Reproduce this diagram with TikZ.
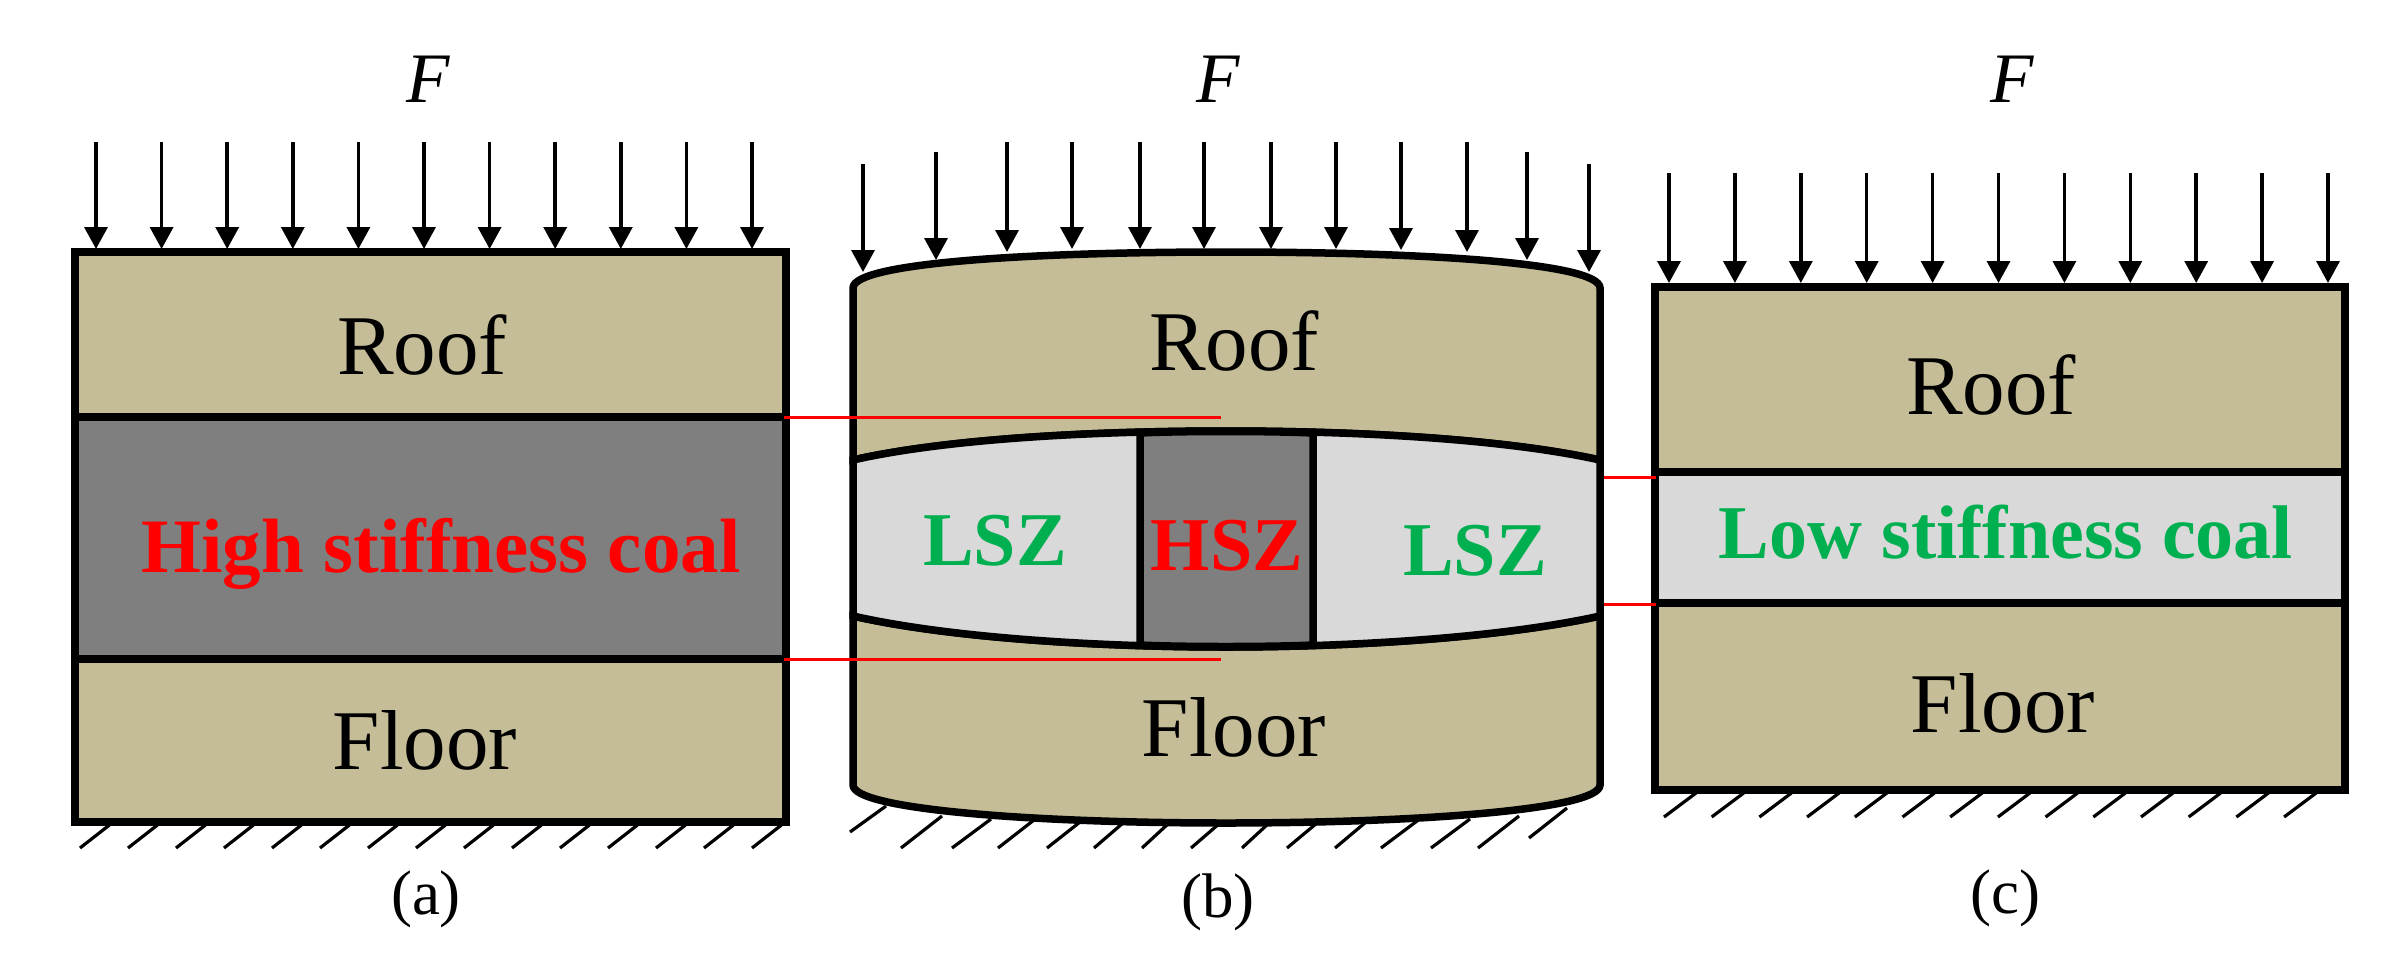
\documentclass[tikz,border=0pt]{standalone}
\usepackage{fontspec}
\setmainfont{Liberation Serif}
\usetikzlibrary{arrows.meta}
\definecolor{rock}{RGB}{196,189,151}
\definecolor{hard}{RGB}{127,127,127}
\definecolor{soft}{RGB}{217,217,217}
\definecolor{lsz}{RGB}{0,176,80}
\newcommand{\fs}[1]{\fontsize{#1}{#1}\selectfont}
\tikzset{
  x=1pt,y=-1pt,
  block/.style={draw=black,line width=7.5pt,line join=miter},
  thinred/.style={draw=red,line width=3pt},
  load/.style={draw=black,line width=3.5pt,-{Triangle[width=23pt,length=22pt]}},
  hatch/.style={draw=black,line width=3.2pt},
  lab/.style={font=\fs{85},text=black,inner sep=0pt,anchor=base},
  capt/.style={font=\fs{63},text=black,inner sep=0pt},
  force/.style={font=\fs{71}\itshape,text=black,inner sep=0pt,anchor=base},
  redbold/.style={font=\fs{77}\bfseries,text=red,inner sep=0pt,anchor=base},
  grnbold/.style={font=\fs{76}\bfseries,text=lsz,inner sep=0pt,anchor=base},
}
\begin{document}
\begin{tikzpicture}
\useasboundingbox (0,0) rectangle (2387,964);
% --- panel a
\filldraw[block,fill=rock] (75,252) rectangle (786,417);
\filldraw[block,fill=hard] (75,417) rectangle (786,659);
\filldraw[block,fill=rock] (75,659) rectangle (786,822);
\foreach \i in {0,...,10}{
  \pgfmathsetmacro{\xx}{96+65.6*\i}
  \coordinate (as\i) at (\xx,142); \coordinate (ae\i) at (\xx,249);
  \draw[load] (as\i) -- (ae\i);
}
\foreach \i in {0,...,14}{
  \pgfmathsetmacro{\xx}{80+48*\i}
  \draw[hatch] (\xx,848) -- (\xx+32,823);
}
\node[force] (fa) at (428,102) {F};
\node[lab] (roofa) at (422,374) {Roof};
\node[lab] (floora) at (425,769) {Floor};
\node[redbold] (hsc) at (441,572) {High stiffness coal};
\node[capt] (capa) at (426,899) {(a)};
% --- panel b
\filldraw[block,fill=rock] (853,460) -- (853,288) .. controls (853,262) and (1040,252) .. (1226,252) .. controls (1412,252) and (1600,262) .. (1600,288) -- (1600,460) .. controls (1500,438) and (1350,431) .. (1226,431) .. controls (1100,431) and (950,438) .. (853,460) -- cycle;
\filldraw[block,fill=rock] (853,616) .. controls (950,638) and (1100,647) .. (1226,647) .. controls (1350,647) and (1500,638) .. (1600,616) -- (1600,785) .. controls (1600,810) and (1412,823) .. (1226,823) .. controls (1040,823) and (853,810) .. (853,785) -- cycle;
\filldraw[block,fill=soft] (853,460) .. controls (950,438) and (1100,431) .. (1226,431) .. controls (1350,431) and (1500,438) .. (1600,460) -- (1600,616) .. controls (1500,638) and (1350,647) .. (1226,647) .. controls (1100,647) and (950,638) .. (853,616) -- cycle;
\filldraw[block,fill=hard] (1140,433) .. controls (1180,431) and (1270,431) .. (1313,433) -- (1313,645) .. controls (1270,647) and (1180,647) .. (1140,645) -- cycle;
\foreach \xx/\ys/\ye [count=\i] in {863/164/272, 936/152/260, 1007/142/252, 1072/142/249, 1140/142/249, 1204/142/249, 1271/142/249, 1336/142/249, 1401/142/250, 1467/142/252, 1527/152/260, 1589/164/272}{
  \coordinate (bs\i) at (\xx,\ys); \coordinate (be\i) at (\xx,\ye);
  \draw[load] (bs\i) -- (be\i);
}
\foreach \xb/\yb/\xt/\yt [count=\i] in {850/832/886/806, 901/848/942/816, 952/848/991/819, 998/848/1034/820, 1047/848/1080/822, 1094/848/1123/823, 1142/848/1169/823, 1191/848/1220/823, 1242/848/1269/823, 1287/848/1317/823, 1335/848/1366/822, 1381/848/1417/821, 1431/848/1470/819, 1478/848/1519/816, 1529/838/1567/808}{
  \coordinate (hb\i) at (\xb,\yb); \coordinate (ht\i) at (\xt,\yt);
  \draw[hatch] (hb\i) -- (ht\i);
}
\node[force] (fb) at (1218,102) {F};
\node[lab] (roofb) at (1234,370) {Roof};
\node[lab] (floorb) at (1234,756) {Floor};
\node[grnbold] (lsz1) at (995,565) {LSZ};
\node[redbold,font=\fs{76}\bfseries] (hsz) at (1227,570) {HSZ};
\node[grnbold] (lsz2) at (1475,575) {LSZ};
\node[capt] (capb) at (1218,902) {(b)};
% --- panel c
\filldraw[block,fill=rock] (1655,287) rectangle (2345,472);
\filldraw[block,fill=soft] (1655,472) rectangle (2345,603);
\filldraw[block,fill=rock] (1655,603) rectangle (2345,790);
\foreach \i in {0,...,10}{
  \pgfmathsetmacro{\xx}{1669+65.9*\i}
  \coordinate (cs\i) at (\xx,173); \coordinate (ce\i) at (\xx,283);
  \draw[load] (cs\i) -- (ce\i);
}
\foreach \i in {0,...,13}{
  \pgfmathsetmacro{\xx}{1664+47.7*\i}
  \draw[hatch] (\xx,817) -- (\xx+32,793);
}
\node[force] (fc) at (2012,102) {F};
\node[lab] (roofc) at (1991,414) {Roof};
\node[lab] (floorc) at (2003,732) {Floor};
\node[grnbold] (lsc) at (2006,558) {Low stiffness coal};
\node[capt] (capc) at (2005,898) {(c)};
% --- red guide lines
\coordinate (r1a) at (784,417); \coordinate (r1b) at (1221,417);
\coordinate (r2a) at (784,659); \coordinate (r2b) at (1221,659);
\coordinate (r3a) at (1604,477); \coordinate (r3b) at (1656,477);
\coordinate (r4a) at (1604,604); \coordinate (r4b) at (1656,604);
\draw[thinred] (r1a) -- (r1b);
\draw[thinred] (r2a) -- (r2b);
\draw[thinred] (r3a) -- (r3b);
\draw[thinred] (r4a) -- (r4b);
\end{tikzpicture}
\end{document}
